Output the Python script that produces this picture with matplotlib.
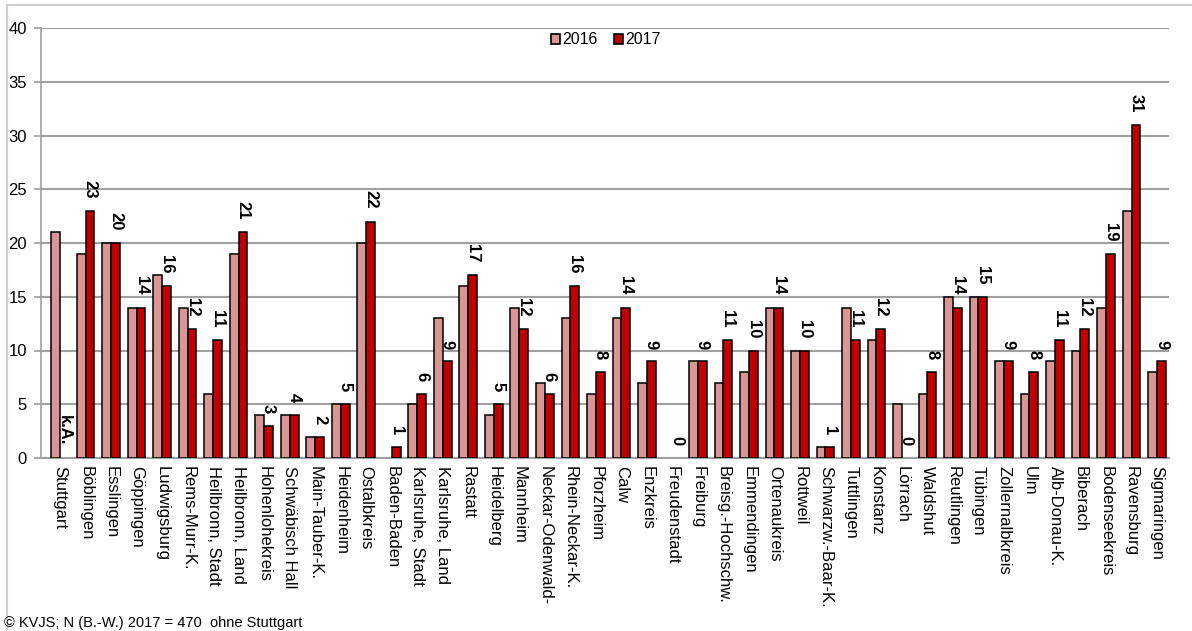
import matplotlib
matplotlib.use("Agg")
import matplotlib.pyplot as plt
from matplotlib.patches import Patch
import numpy as np

plt.rcParams['font.family'] = ['Liberation Sans', 'DejaVu Sans']

categories = ["Stuttgart", "Böblingen", "Esslingen", "Göppingen", "Ludwigsburg",
              "Rems-Murr-K.", "Heilbronn, Stadt", "Heilbronn, Land", "Hohenlohekreis",
              "Schwäbisch Hall", "Main-Tauber-K.", "Heidenheim", "Ostalbkreis",
              "Baden-Baden", "Karlsruhe, Stadt", "Karlsruhe, Land", "Rastatt",
              "Heidelberg", "Mannheim", "Neckar-Odenwald-", "Rhein-Neckar-K.",
              "Pforzheim", "Calw", "Enzkreis", "Freudenstadt", "Freiburg",
              "Breisg.-Hochschw.", "Emmendingen", "Ortenaukreis", "Rottweil",
              "Schwarzw.-Baar-K.", "Tuttlingen", "Konstanz", "Lörrach", "Waldshut",
              "Reutlingen", "Tübingen", "Zollernalbkreis", "Ulm", "Alb-Donau-K.",
              "Biberach", "Bodenseekreis", "Ravensburg", "Sigmaringen"]
values_2016 = [21, 19, 20, 14, 17, 14, 6, 19, 4, 4, 2, 5, 20, 0, 5, 13, 16, 4, 14, 7,
               13, 6, 13, 7, 0, 9, 7, 8, 14, 10, 1, 14, 11, 5, 6, 15, 15, 9, 6, 9,
               10, 14, 23, 8]
values_2017 = [None, 23, 20, 14, 16, 12, 11, 21, 3, 4, 2, 5, 22, 1, 6, 9, 17, 5, 12, 6,
               16, 8, 14, 9, 0, 9, 11, 10, 14, 10, 1, 11, 12, 0, 8, 14, 15, 9, 8, 11,
               12, 19, 31, 9]
yticks = [0, 5, 10, 15, 20, 25, 30, 35, 40]
footer = "© KVJS; N (B.-W.) 2017 = 470  ohne Stuttgart"

c16 = "#D99694"
c17 = "#C00000"
grid_c = "#A0A0A0"

W, H = 1192, 631
fig = plt.figure(figsize=(W / 100, H / 100), dpi=100)
ax = fig.add_axes([41 / W, 1 - 458 / H, (1169 - 41) / W, (458 - 28) / H])

x = np.arange(len(categories))
bw = 0.345
v16 = np.array(values_2016, dtype=float)
v17 = np.array([np.nan if v is None else v for v in values_2017], dtype=float)
# zero-height bars are not drawn in the original
v16_draw = np.where(v16 > 0, v16, np.nan)
v17_draw = np.where(v17 > 0, v17, np.nan)
ax.bar(x - bw / 2, v16_draw, width=bw, color=c16, edgecolor="black", linewidth=1.1, zorder=3)
ax.bar(x + bw / 2, v17_draw, width=bw, color=c17, edgecolor="black", linewidth=1.1, zorder=3)

for i, v in enumerate(values_2017):
    label = "k.A." if v is None else str(v)
    yv = 0 if v is None else v
    ax.annotate(label, (x[i] + bw / 2, yv), xytext=(0, 9),
                textcoords="offset points", rotation=270, ha="center", va="bottom",
                fontsize=12, fontweight="bold", zorder=4)

ax.set_xlim(-0.75, 43.47)
ax.set_ylim(0, 40)
ax.set_yticks(yticks)
ax.set_yticklabels([str(t) for t in yticks], fontsize=12)
ax.set_xticks(x)
ax.set_xticklabels(categories, rotation=270, fontsize=12, va="top", ha="center")
ax.tick_params(axis="x", length=0, pad=6)
ax.tick_params(axis="y", length=5, width=1.2, color=grid_c, pad=5)
ax.yaxis.grid(True, color=grid_c, linewidth=1.5, zorder=0)
ax.set_axisbelow(True)
for s in ["top", "right"]:
    ax.spines[s].set_visible(False)
ax.spines["left"].set_color(grid_c)
ax.spines["left"].set_linewidth(1.2)
ax.spines["bottom"].set_color(grid_c)
ax.spines["bottom"].set_linewidth(1.5)

handles = [Patch(facecolor=c16, edgecolor="black", linewidth=1.2, label="2016"),
           Patch(facecolor=c17, edgecolor="black", linewidth=1.2, label="2017")]
fig.legend(handles=handles, loc="center", bbox_to_anchor=(606 / W, 1 - 40 / H), ncol=2,
           frameon=False, fontsize=11.5, handlelength=0.55, handleheight=0.55,
           handletextpad=0.15, columnspacing=1.0, borderpad=0)

fig.text(4 / W, 1 - 623 / H, footer, fontsize=10.5, ha="left", va="center")

# outer chart-area border (only top and left visible)
fig.add_artist(plt.Line2D([7 / W, 1.0], [1 - 5 / H, 1 - 5 / H], color="#D0D0D0", linewidth=1.5,
                          transform=fig.transFigure))
fig.add_artist(plt.Line2D([7 / W, 7 / W], [0.0, 1 - 5 / H], color="#D0D0D0", linewidth=1.5,
                          transform=fig.transFigure))

fig.savefig("out.png", dpi=100)
